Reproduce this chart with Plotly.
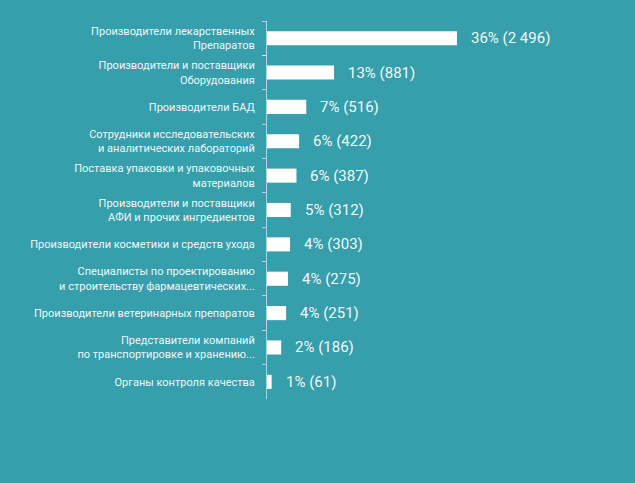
import plotly.graph_objects as go

categories = [
    "Производители лекарственных<br>Препаратов",
    "Производители и поставщики<br>Оборудования",
    "Производители БАД",
    "Сотрудники исследовательских<br>и аналитических лабораторий",
    "Поставка упаковки и упаковочных<br>материалов",
    "Производители и поставщики<br>АФИ и прочих ингредиентов",
    "Производители косметики и средств ухода",
    "Специалисты по проектированию<br>и строительству фармацевтических...",
    "Производители ветеринарных препаратов",
    "Представители компаний<br>по транспортировке и хранению...",
    "Органы контроля качества",
]
counts = [2496, 881, 516, 422, 387, 312, 303, 275, 251, 186, 61]
percents = [36, 13, 7, 6, 6, 5, 4, 4, 4, 2, 1]
value_labels = ["36% (2 496)", "13% (881)", "7% (516)", "6% (422)", "6% (387)",
                "5% (312)", "4% (303)", "4% (275)", "4% (251)", "2% (186)", "1% (61)"]

BG = "#379fac"
TXT = "rgba(255,255,255,0.95)"

fig = go.Figure(go.Bar(
    y=categories, x=counts, orientation="h",
    marker=dict(color="white", line=dict(width=0)),
    hoverinfo="skip",
))

for c, v, lab in zip(categories, counts, value_labels):
    fig.add_annotation(x=v, y=c, text=lab, showarrow=False, xanchor="left",
                       xshift=12, font=dict(family="Roboto", size=15, color=TXT))

fig.update_layout(
    width=635, height=483,
    margin=dict(l=267, r=35, t=21, b=84),
    paper_bgcolor=BG, plot_bgcolor=BG,
    bargap=0.59,
    showlegend=False,
    font=dict(family="Roboto", color=TXT),
)
fig.update_xaxes(range=[0, 4375], visible=False, showgrid=False, zeroline=False)
fig.update_yaxes(
    autorange="reversed", type="category",
    showline=True, linecolor="rgba(255,255,255,0.6)", linewidth=1,
    ticks="outside", tickson="boundaries", ticklen=4,
    tickcolor="rgba(255,255,255,0.6)", tickwidth=1,
    showgrid=False, zeroline=False,
    ticklabelstandoff=9,
    tickfont=dict(family="Roboto", size=11, color=TXT),
)

fig.write_html("out.html")
